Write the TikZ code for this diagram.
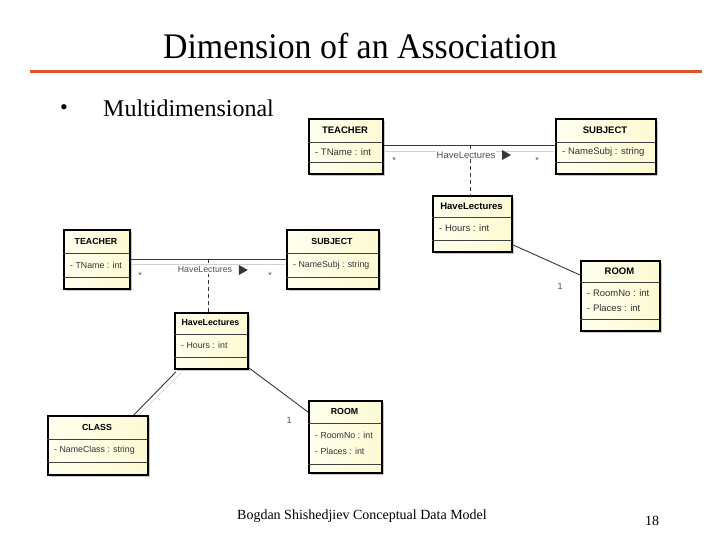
\documentclass[tikz,border=0pt]{standalone}
\usepackage{fontspec}
\usepackage{graphicx}
\setmainfont{Liberation Serif}
\newfontfamily\umlfont{Liberation Sans}
\usetikzlibrary{calc}
\definecolor{titlered}{RGB}{224,82,44}
\definecolor{boxleft}{RGB}{255,255,238}
\definecolor{boxright}{RGB}{252,250,210}
\definecolor{shadowc}{RGB}{200,200,200}
\definecolor{linec}{RGB}{55,55,55}
\definecolor{labc}{RGB}{80,80,80}
\newcommand\umlsz{\fontsize{9.5}{15}\selectfont}
\tikzset{
  clsbox/.style={draw=black, line width=1.8pt, left color=boxleft, right color=boxright, inner sep=0pt},
  clssep/.style={draw=black!75, line width=0.7pt},
  clstitle/.style={font=\umlfont\bfseries\umlsz, inner sep=0pt},
  clsattr/.style={font=\umlfont\umlsz, inner sep=0pt, align=left, text=black!80},
  assoc/.style={draw=linec, line width=0.9pt},
  faint/.style={draw=black!18, line width=0.5pt},
  dashc/.style={draw=linec, line width=0.8pt, dash pattern=on 4pt off 3pt},
  alabel/.style={font=\umlfont\umlsz, text=labc, inner sep=0pt},
  mult/.style={font=\umlfont\fontsize{9}{10}\selectfont, text=labc, inner sep=0pt},
}
\newcommand\umlcls[9]{%
  \fill[shadowc] (#2+3,#3+3) rectangle (#4+3,#5+3);
  \node[clsbox, anchor=north west, minimum width={#4-#2}, minimum height={#5-#3}] (#1) at (#2,#3) {};
  \draw[clssep] (#2,#6) -- (#4,#6);
  \draw[clssep] (#2,#7) -- (#4,#7);
  \node[clstitle] (#1-t) at ({(#2+#4)/2},{(#3+#6)/2}) {#8};
  \node[clsattr, anchor=west] (#1-a) at (#2+7,{(#6+#7)/2}) {#9};
}
\begin{document}
\begin{tikzpicture}[x=1pt,y=-1pt]
\useasboundingbox (0,0) rectangle (720,540);
\fill[white] (0,0) rectangle (720,540);
% title
\node[font=\fontsize{36}{40}\selectfont, inner sep=0pt] (title) at (360,46) {\scalebox{0.94}[1]{Dimension of an Association}};
\draw[titlered, line width=3pt] (30,72) -- (702,72);
\node[font=\fontsize{22}{24}\selectfont, inner sep=0pt] (bul) at (64,110) {•};
\node[font=\fontsize{24}{26}\selectfont, anchor=west, inner sep=0pt] (multi) at (103,108) {Multidimensional};
% footer
\node[font=\fontsize{14}{16}\selectfont, inner sep=0pt] (foot) at (362,516) {Bogdan Shishedjiev Conceptual Data Model};
\node[font=\fontsize{14}{16}\selectfont, inner sep=0pt] (page) at (652,521) {18};

% ---------- top diagram ----------
\umlcls{t1}{308}{118}{382}{173}{142}{162}{TEACHER}{- TName : int}
\umlcls{s1}{555}{118}{655}{173}{142}{162}{SUBJECT}{- NameSubj : string}
\umlcls{h1}{432}{195}{511}{251}{217}{240}{HaveLectures}{- Hours : int}
\umlcls{r1}{580}{260}{659}{330}{282}{319}{ROOM}{- RoomNo : int\\- Places : int}
\draw[faint] ($(t1.north east)+(1,33)$) -- ($(s1.north west)+(-1,33)$);
\draw[assoc] ($(t1.north east)+(0,27)$) -- ($(s1.north west)+(0,27)$);
\coordinate (m1) at (470,145);
\draw[dashc] (m1) -- (m1 |- h1.north);
\node[alabel, fill=white, inner sep=0.5pt] (l1) at (466,155) {HaveLectures};
\fill[linec] ($(l1.east)+(6,-5)$) -- ++(9,5) -- ++(-9,5) -- cycle;
\node[mult] (st1) at (394,160) {*};
\node[mult] (st2) at (537,160) {*};
\draw[assoc] ($(h1.south east)+(0,-8)$) -- ($(r1.north west)+(0,15)$);
\node[mult] (one1) at (560,286) {1};

% ---------- bottom diagram ----------
\renewcommand\umlsz{\fontsize{8.8}{15.5}\selectfont}
\umlcls{t2}{63}{229}{129}{288}{253}{277}{TEACHER}{- TName : int}
\umlcls{s2}{286}{229}{378}{288}{253}{277}{SUBJECT}{- NameSubj : string}
\umlcls{h2}{174}{312}{247}{368}{334}{357}{HaveLectures}{- Hours : int}
\umlcls{c2}{47}{415}{147}{474}{439}{462}{CLASS}{- NameClass : string}
\umlcls{r2}{308}{400}{381}{472}{423}{464}{ROOM}{- RoomNo : int\\- Places : int}
\draw[faint] ($(t2.north east)+(1,35)$) -- ($(s2.north west)+(-1,35)$);
\draw[assoc] ($(t2.north east)+(0,30)$) -- ($(s2.north west)+(0,30)$);
\coordinate (m2) at (208,259);
\draw[dashc] (m2) -- (m2 |- h2.north);
\node[alabel, fill=white, inner sep=0.5pt] (l2) at (205,270) {HaveLectures};
\fill[linec] ($(l2.east)+(6,-5)$) -- ++(9,5) -- ++(-9,5) -- cycle;
\node[mult] (st3) at (140,275) {*};
\node[mult] (st4) at (270,275) {*};
\draw[assoc] ($(h2.south west)+(2,2)$) -- ($(c2.north east)+(-15,0)$);
\draw[faint] ($(h2.south west)+(7,3)$) -- ($(c2.north east)+(-10,0)$);
\draw[assoc] ($(h2.south east)+(0,-2)$) -- ($(r2.north west)+(0,12)$);
\node[mult] (one2) at (289,420) {1};
\end{tikzpicture}
\end{document}
